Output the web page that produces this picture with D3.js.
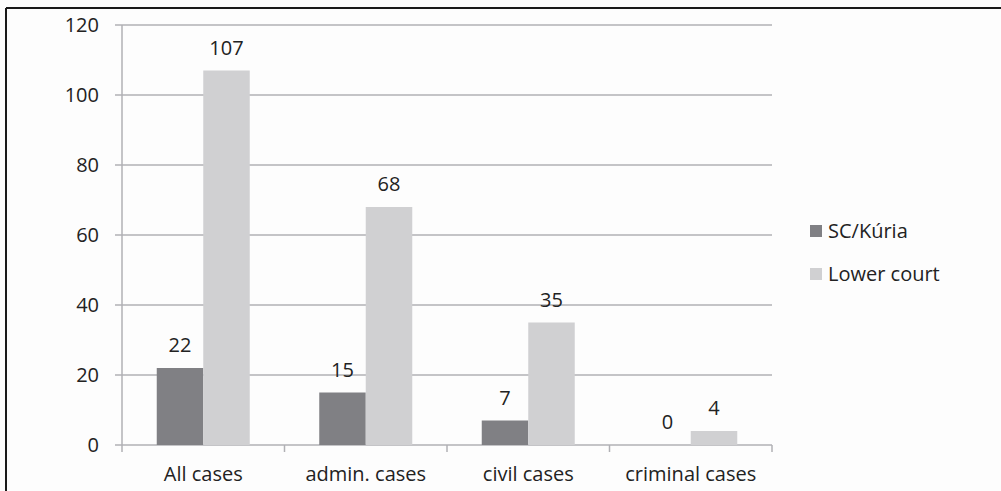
<!DOCTYPE html>
<html>
<head>
<meta charset="utf-8">
<script src="https://cdn.jsdelivr.net/npm/d3@7"></script>
<style>
html,body{margin:0;padding:0;background:#fdfdfd;}
svg text{font-family:"Open Sans",sans-serif;fill:#222;}
</style>
</head>
<body>
<svg id="chart" width="1001" height="491"></svg>
<script>
const categories = ["All cases", "admin. cases", "civil cases", "criminal cases"];
const seriesNames = ["SC/Kúria", "Lower court"];
const scKuria = [22, 15, 7, 0];
const lowerCourt = [107, 68, 35, 4];
const yTicks = [0, 20, 40, 60, 80, 100, 120];
const colors = ["#808084", "#d0d0d2"];

(function () {
const svg = d3.select("#chart");
const fs = 20;
// frame
svg.append("line").attr("x1",6).attr("x2",1001).attr("y1",8).attr("y2",8).attr("stroke","#1a1a1a").attr("stroke-width",2);
svg.append("line").attr("x1",6).attr("x2",6).attr("y1",8).attr("y2",491).attr("stroke","#1a1a1a").attr("stroke-width",2);

const pl = 122, pr = 772, pt = 25, pb = 445;
const x = d3.scaleBand().domain(categories).range([pl, pr]).padding(0);
const y = d3.scaleLinear().domain([0, 120]).range([pb, pt]);
const gridColor = "#b0b0b4";

// gridlines
svg.append("g").selectAll("line").data(yTicks).join("line")
  .attr("x1", pl - 7).attr("x2", pr)
  .attr("y1", d => y(d)).attr("y2", d => y(d))
  .attr("stroke", gridColor).attr("stroke-width", 1.5);

// y tick labels
svg.append("g").selectAll("text").data(yTicks).join("text")
  .attr("x", 99).attr("y", d => y(d)).attr("dy", "0.36em")
  .attr("text-anchor", "end").attr("font-size", fs).text(d => d);

// y axis line
svg.append("line").attr("x1", pl).attr("x2", pl).attr("y1", pt).attr("y2", pb + 7)
  .attr("stroke", gridColor).attr("stroke-width", 1.5);

// category ticks
const tickPos = categories.map(c => x(c)).concat([pr]);
svg.append("g").selectAll("line").data(tickPos.slice(1)).join("line")
  .attr("x1", d => d).attr("x2", d => d).attr("y1", pb).attr("y2", pb + 7)
  .attr("stroke", gridColor).attr("stroke-width", 1.5);

// category labels
svg.append("g").selectAll("text").data(categories).join("text")
  .attr("x", d => x(d) + x.bandwidth() / 2).attr("y", 481)
  .attr("text-anchor", "middle").attr("font-size", fs).text(d => d);

// bars
const barW = 46.5;
const series = [scKuria, lowerCourt];
series.forEach((vals, si) => {
  const g = svg.append("g");
  g.selectAll("rect").data(vals).join("rect")
    .attr("x", (d, i) => x(categories[i]) + x.bandwidth() / 2 - barW + si * barW)
    .attr("width", barW)
    .attr("y", d => y(d))
    .attr("height", d => pb - y(d))
    .attr("fill", colors[si]);
  g.selectAll("text").data(vals).join("text")
    .attr("x", (d, i) => x(categories[i]) + x.bandwidth() / 2 - barW / 2 + si * barW)
    .attr("y", d => y(d) - 16)
    .attr("text-anchor", "middle").attr("font-size", fs).text(d => d);
});

// legend
const legend = svg.append("g");
seriesNames.forEach((n, i) => {
  const ly = 231 + i * 43;
  legend.append("rect").attr("x", 810).attr("y", ly - 6).attr("width", 12).attr("height", 12).attr("fill", colors[i]);
  legend.append("text").attr("x", 828).attr("y", ly).attr("dy", "0.36em").attr("font-size", fs).text(n);
});
})();
</script>
</body>
</html>
